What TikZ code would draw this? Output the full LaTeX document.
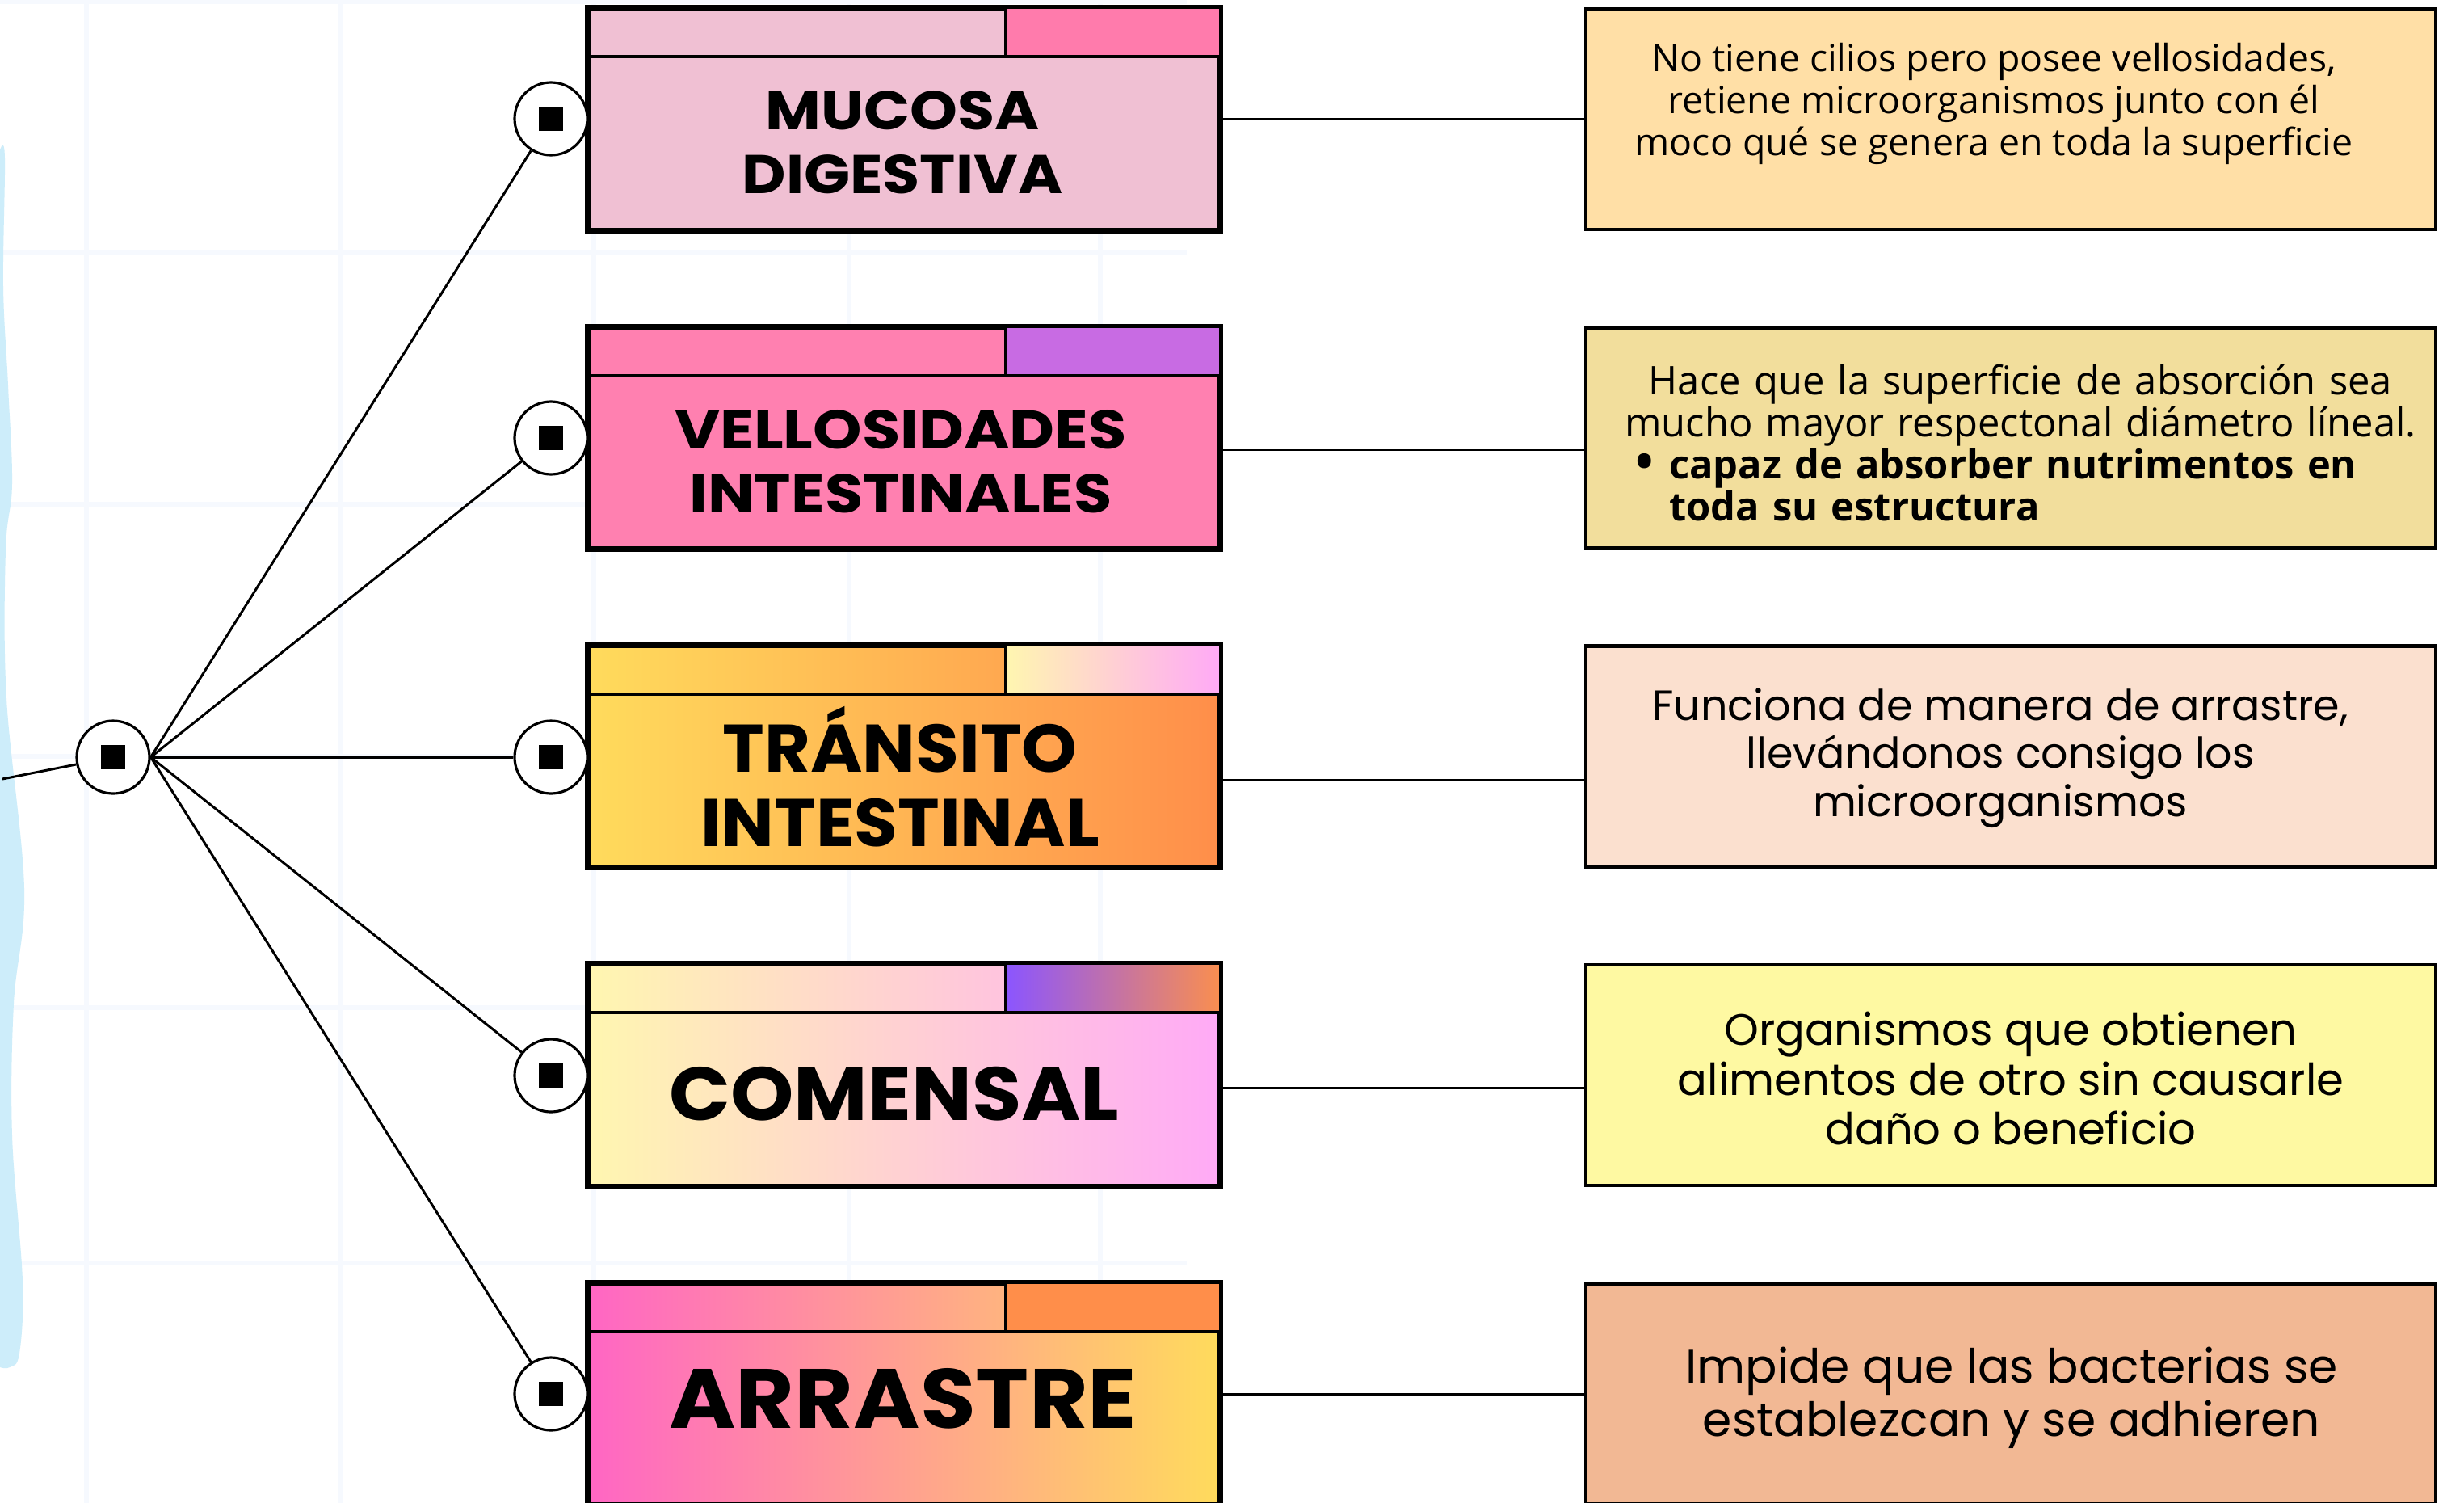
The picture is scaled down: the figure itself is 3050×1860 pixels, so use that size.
\documentclass[tikz,border=0pt]{standalone}
\usepackage{fontspec}
\newfontfamily\pop{Poppins}
\newfontfamily\osans{Open Sans}
\usetikzlibrary{calc}
\definecolor{gridc}{HTML}{F6F9FE}
\definecolor{bluec}{HTML}{CDEDFA}
\definecolor{lA}{HTML}{F0C0D3}
\definecolor{hA}{HTML}{FF7BAC}
\definecolor{lB}{HTML}{FF80B0}
\definecolor{hB}{HTML}{C86BE3}
\definecolor{yel}{HTML}{FFDB5C}
\definecolor{ora}{HTML}{FF8E4A}
\definecolor{cream}{HTML}{FFF6B0}
\definecolor{pinkl}{HTML}{FFAAF6}
\definecolor{purp}{HTML}{8B55FF}
\definecolor{ora2}{HTML}{F98E50}
\definecolor{hotp}{HTML}{FF66C4}
\definecolor{rA}{HTML}{FFDFA6}
\definecolor{rB}{HTML}{F2DE9C}
\definecolor{rC}{HTML}{FBE0CF}
\definecolor{rD}{HTML}{FEF9A2}
\definecolor{rE}{HTML}{F2B894}
\tikzset{
  lbox/.style={draw=black, line width=1.3pt, minimum width=78mm, minimum height=27.3mm, inner sep=0pt},
  rbox/.style={draw=black, line width=1.2pt, minimum width=105.2mm, minimum height=27.3mm, inner sep=0pt},
  hdr/.style={draw=black, line width=1.1pt},
  edge/.style={draw=black, line width=1.3pt},
  dot/.style={circle, draw=black, line width=0.9pt, fill=white, minimum size=9mm, inner sep=0pt},
  link/.style={draw=black, line width=0.85pt},
  ttl/.style={align=center, inner sep=0pt},
  desc/.style={align=center, inner sep=0pt},
}
\begin{document}
\begin{tikzpicture}[x=0.1mm, y=-0.1mm]
\useasboundingbox (0,0) rectangle (3050,1860);
\fill[white] (0,0) rectangle (3050,1860);
% faint grid
\foreach \gx in {107,421,735,1051,1362}
  \draw[gridc, line width=0.6mm] (\gx,0) -- (\gx,1860);
\foreach \gy in {2,312,624,936,1247,1563}
  \draw[gridc, line width=0.6mm] (0,\gy) -- (1469,\gy);
% blue wavy strip
\fill[bluec] (-10,186) -- plot[smooth, tension=0.6] coordinates {(0,186) (6,195) (4,354) (10,477) (15,599) (7,681) (8,864) (30,1099) (17,1242) (15,1405) (28,1585) (24,1675) (12,1692) (0,1692)} -- (-10,1692) -- cycle;

% ---------- left boxes ----------
% box 1
\node[lbox, fill=lA] (l1) at (1119,147.5) {};
\fill[hA] (1245,11) rectangle (1509,70);
\draw[hdr] (729,70) -- (1509,70);
\draw[hdr] (1245,11) -- (1245,70);
\draw[edge] (l1.north west) rectangle (l1.south east);
\node[ttl, font=\pop\bfseries\addfontfeatures{FakeStretch=1.11}\fontsize{19.2}{22.4}\selectfont] (t1) at (1117,176) {MUCOSA\\DIGESTIVA};
% box 2
\node[lbox, fill=lB] (l2) at (1119,542) {};
\fill[hB] (1245,406) rectangle (1509,465);
\draw[hdr] (729,465) -- (1509,465);
\draw[hdr] (1245,406) -- (1245,465);
\draw[edge] (l2.north west) rectangle (l2.south east);
\node[ttl, font=\pop\bfseries\addfontfeatures{FakeStretch=1.14}\fontsize{19.2}{22.4}\selectfont] (t2) at (1115,571) {VELLOSIDADES\\INTESTINALES};
% box 3
\node[lbox, left color=yel, right color=ora] (l3) at (1119,936) {};
\shade[left color=cream, right color=pinkl] (1245,800) rectangle (1509,859);
\draw[hdr] (729,859) -- (1509,859);
\draw[hdr] (1245,800) -- (1245,859);
\draw[edge] (l3.north west) rectangle (l3.south east);
\node[ttl, font=\pop\bfseries\addfontfeatures{FakeStretch=1.05}\fontsize{23.7}{26.2}\selectfont] (t3) at (1114,961) {TRÁNSITO\\INTESTINAL};
% box 4
\node[lbox, left color=cream, right color=pinkl] (l4) at (1119,1330.5) {};
\shade[left color=purp, right color=ora2] (1245,1194) rectangle (1509,1253);
\draw[hdr] (729,1253) -- (1509,1253);
\draw[hdr] (1245,1194) -- (1245,1253);
\draw[edge] (l4.north west) rectangle (l4.south east);
\node[ttl, font=\pop\bfseries\addfontfeatures{FakeStretch=1.07}\fontsize{26.5}{30}\selectfont] (t4) at (1107,1354) {COMENSAL};
% box 5
\node[lbox, left color=hotp, right color=yel] (l5) at (1119,1725) {};
\fill[ora] (1245,1589) rectangle (1509,1648);
\draw[hdr] (729,1648) -- (1509,1648);
\draw[hdr] (1245,1589) -- (1245,1648);
\draw[edge] (l5.north west) rectangle (l5.south east);
\node[ttl, font=\pop\bfseries\addfontfeatures{FakeStretch=1.075}\fontsize{29.6}{33}\selectfont] (t5) at (1118,1731) {ARRASTRE};

% ---------- right boxes ----------
\node[rbox, fill=rA] (r1) at (2489,147.5) {};
\node[rbox, fill=rB] (r2) at (2489,542) {};
\node[rbox, fill=rC] (r3) at (2489,936) {};
\node[rbox, fill=rD] (r4) at (2489,1330.5) {};
\node[rbox, fill=rE] (r5) at (2489,1725) {};

\node[desc, font=\osans\fontsize{13.2}{14.8}\selectfont] (d1) at (2468,128)
  {No tiene cilios pero posee vellosidades,\\retiene microorganismos junto con él\\moco qué se genera en toda la superficie};
\node[inner sep=0pt, text width=105mm, font=\osans\fontsize{13.9}{14.8}\selectfont] (d2) at (2501,548)
  {{\centering Hace que la superficie de absorción sea\\mucho mayor respectonal diámetro líneal.\par}
   \raggedright\noindent\hspace*{4.8mm}\makebox[4.2mm][l]{\bfseries\fontsize{17}{14.8}\selectfont\textbullet}\textbf{capaz de absorber nutrimentos en}\\\hspace*{9mm}\textbf{toda su estructura}\par};
\node[desc, font=\pop\fontsize{14.9}{16.9}\selectfont] (d3) at (2476,938)
  {Funciona de manera de arrastre,\\llevándonos consigo los\\microorganismos};
\node[desc, font=\pop\fontsize{15.5}{17.5}\selectfont] (d4) at (2489,1335)
  {Organismos que obtienen\\alimentos de otro sin causarle\\daño o beneficio};
\node[desc, font=\pop\fontsize{16.6}{18.8}\selectfont] (d5) at (2490,1730)
  {Impide que las bacterias se\\establezcan y se adhieren};

% ---------- circles ----------
\node[dot] (root) at (140,937) {\rule{3mm}{3mm}};
\node[dot] (c1) at (682,147) {\rule{3mm}{3mm}};
\node[dot] (c2) at (682,542) {\rule{3mm}{3mm}};
\node[dot] (c3) at (682,937) {\rule{3mm}{3mm}};
\node[dot] (c4) at (682,1331) {\rule{3mm}{3mm}};
\node[dot] (c5) at (682,1725) {\rule{3mm}{3mm}};
\coordinate (inlet) at (3,964);

% ---------- connectors ----------
\draw[link] (inlet) -- (root);
\foreach \c in {c1,c2,c3,c4,c5}
  \draw[link] (root.east) -- (\c);
\draw[link] (l1.east) -- (r1.west);
\draw[link] ([yshift=-1.5mm]l2.east) -- ([yshift=-1.5mm]r2.west);
\draw[link] ([yshift=-2.9mm]l3.east) -- ([yshift=-2.9mm]r3.west);
\draw[link] ([yshift=-1.55mm]l4.east) -- ([yshift=-1.55mm]r4.west);
\draw[link] (l5.east) -- (r5.west);
\end{tikzpicture}
\end{document}
